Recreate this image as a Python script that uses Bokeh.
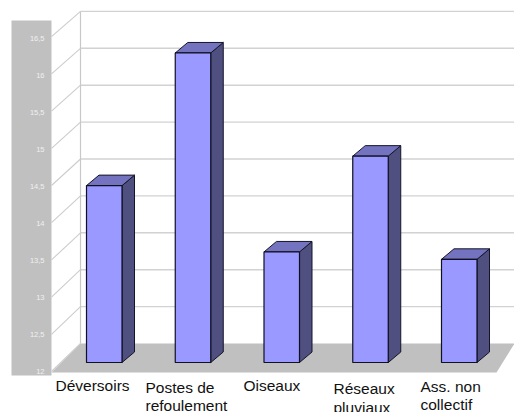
from bokeh.plotting import figure
from bokeh.embed import file_html
from bokeh.resources import INLINE
from bokeh.core.properties import value

categories = [["Déversoirs"], ["Postes de", "refoulement"], ["Oiseaux"], ["Réseaux", "pluviaux"], ["Ass. non", "collectif"]]
values = [14.4, 16.2, 13.5, 14.8, 13.4]
ticks = [12, 12.5, 13, 13.5, 14, 14.5, 15, 15.5, 16, 16.5]
tick_labels = ["12", "12,5", "13", "13,5", "14", "14,5", "15", "15,5", "16", "16,5"]

W, H = 514, 412
BASE_PX = 362.0     # screen row of the value 12 at the bars' depth
PX_PER_UNIT = 73.7

def v(py):
    """Screen row to value units on the y range."""
    return 12 + (BASE_PX - py) / PX_PER_UNIT

p = figure(width=W, height=H, output_backend="svg", toolbar_location=None,
           x_range=(0, W), y_range=(v(H), v(0)), min_border=0,
           background_fill_color="white", border_fill_color="white", outline_line_color=None)
p.axis.visible = False
p.grid.visible = False

# Grey value strip on the left
p.quad(left=[11], right=[51], top=[v(20)], bottom=[v(375)], fill_color="#c0c0c0", line_color=None)

# Floor
p.patch([51, 80, 514, 496], [v(372), v(343), v(343), v(372)], fill_color="#c0c0c0", line_color=None)

# Back wall: gridlines, and the diagonals on the side wall
FRONT_0, FRONT_STEP = 371.0, 37.2
BACK_0, BACK_STEP = 343.0, 36.9
LABEL_0, LABEL_STEP = 371.0, 37.0
for t, label in zip(ticks, tick_labels):
    k = (t - 12) * 2
    back = BACK_0 - k * BACK_STEP
    front = FRONT_0 - k * FRONT_STEP
    if t > 12:
        p.line([80, 514], [v(back), v(back)], line_color="#d2d2d2", line_width=1.4)
    p.line([51, 80], [v(front), v(back)], line_color="#cccccc", line_width=1.1)
    p.text([44], [v(LABEL_0 - k * LABEL_STEP)], text=[label], text_align="right", text_baseline="middle",
           text_font=value("Liberation Sans"), text_font_size="7.5px", text_color="#f0f0f0")
p.line([80, 80], [v(11), v(343)], line_color="#c8c8c8", line_width=1.2)

# Bars: front face, side and top in perspective
LEFT_0, SPACING, BAR_W, DX, DY = 86.0, 88.75, 35.5, 12.5, 10.5
for i, val in enumerate(values):
    l = LEFT_0 + i * SPACING
    r = l + BAR_W
    dy = DY / PX_PER_UNIT
    p.patch([r, r + DX, r + DX, r], [12, 12 + dy, val + dy, val],
            fill_color="#4f4f80", line_color="#15152a", line_width=1)
    p.patch([l, l + DX, r + DX, r], [val, val + dy, val + dy, val],
            fill_color="#7373bf", line_color="#15152a", line_width=1)
    p.quad(left=[l], right=[r], bottom=[12], top=[val],
           fill_color="#9999ff", line_color="#101020", line_width=1.2)

# Category labels, one row per line of text
LABEL_X = [55, 145, 243, 333, 420]
LABEL_ROWS = [[385], [387, 404.5], [385], [388, 407], [386, 403.5]]
for x, rows, lines in zip(LABEL_X, LABEL_ROWS, categories):
    for y, line in zip(rows, lines):
        p.text([x], [v(y)], text=[line], text_align="left", text_baseline="middle",
               text_font=value("Liberation Sans"), text_font_size="15.5px", text_color="#111111")

open("out.html", "w").write(file_html(p, INLINE))
